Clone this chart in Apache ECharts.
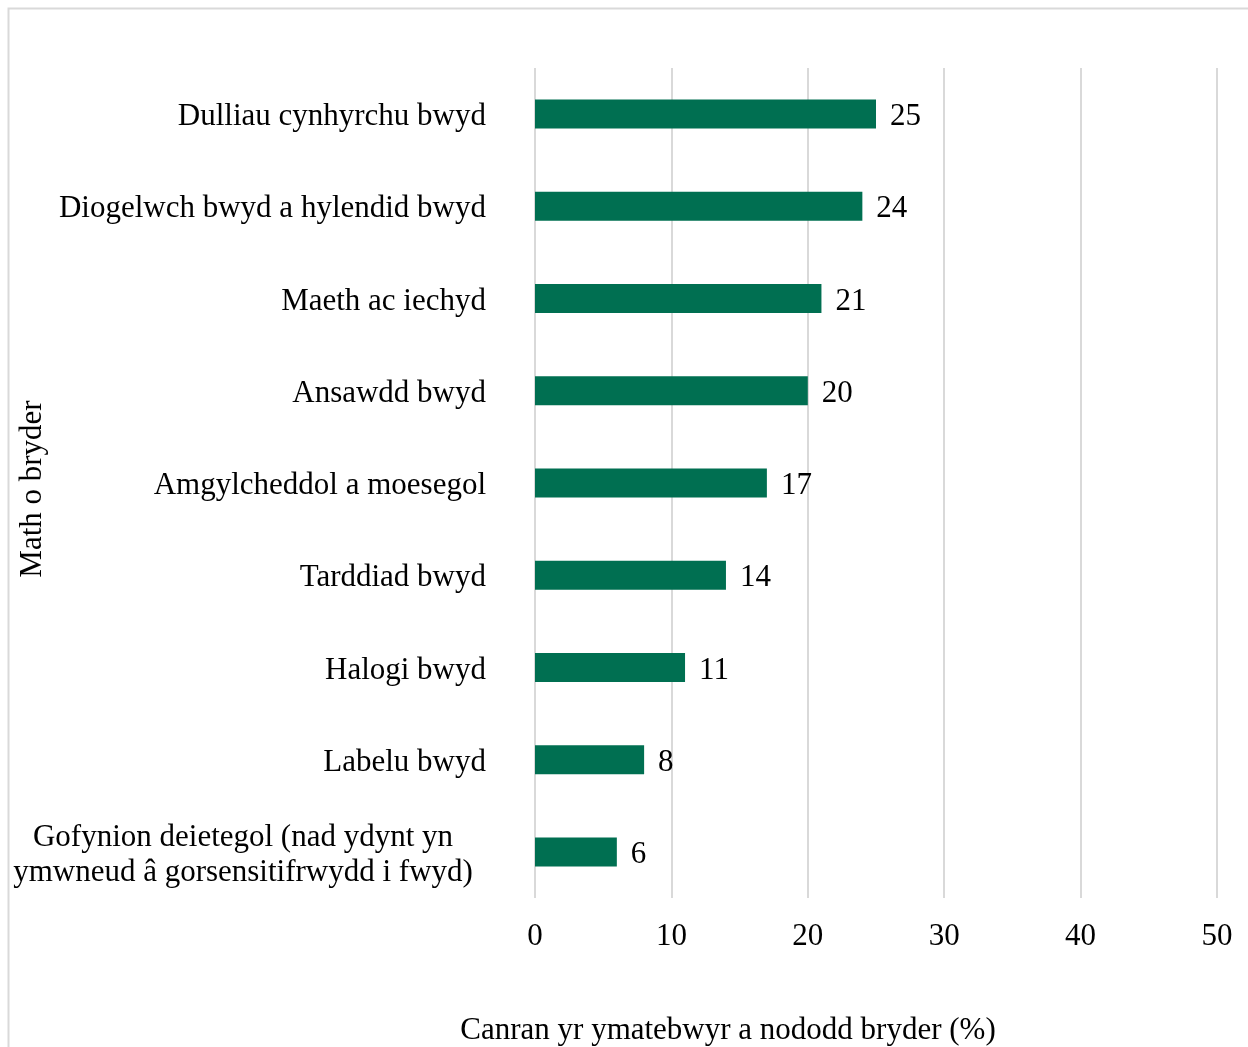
<!DOCTYPE html>
<html><head><meta charset="utf-8">
<script src="https://cdn.jsdelivr.net/npm/echarts@6/dist/echarts.min.js"></script>
<style>html,body{margin:0;padding:0;background:#fff}#c{width:1248px;height:1047px}</style>
</head><body><div id="c"></div>
<script>
const categories = [
  "Dulliau cynhyrchu bwyd",
  "Diogelwch bwyd a hylendid bwyd",
  "Maeth ac iechyd",
  "Ansawdd bwyd",
  "Amgylcheddol a moesegol",
  "Tarddiad bwyd",
  "Halogi bwyd",
  "Labelu bwyd",
  "Gofynion deietegol (nad ydynt yn\nymwneud â gorsensitifrwydd i fwyd)"
];
const values = [25, 24, 21, 20, 17, 14, 11, 8, 6];
const xTicks = [0, 10, 20, 30, 40, 50];
const xTitle = "Canran yr ymatebwyr a nododd bryder (%)";
const yTitle = "Math o bryder";

const FONT = "'Liberation Serif','Times New Roman',serif";
const FS = 31;
const chart = echarts.init(document.getElementById('c'));
chart.setOption({
  animation: false,
  graphic: [
    { type: 'rect', shape: { x: 8.5, y: 8.5, width: 1400, height: 1200 }, style: { fill: 'none', stroke: '#d9d9d9', lineWidth: 2 }, silent: true },
    { type: 'text', x: 728, y: 1031, style: { text: xTitle, font: FS + 'px ' + FONT, fill: '#000', textAlign: 'center', textVerticalAlign: 'middle' } },
    { type: 'text', x: 33, y: 489, rotation: Math.PI / 2, style: { text: yTitle, font: FS + 'px ' + FONT, fill: '#000', textAlign: 'center', textVerticalAlign: 'middle' } }
  ],
  grid: { left: 535, right: 31, top: 68, bottom: 149, containLabel: false, outerBoundsMode: 'none' },
  xAxis: {
    type: 'value', min: xTicks[0], max: xTicks[xTicks.length - 1], interval: 10,
    axisLine: { show: false }, axisTick: { show: false },
    splitLine: { show: true, lineStyle: { color: '#d9d9d9', width: 2 } },
    axisLabel: { margin: 23, color: '#000', fontFamily: FONT, fontSize: FS }
  },
  yAxis: {
    type: 'category', data: categories, inverse: true,
    axisLine: { show: false }, axisTick: { show: false },
    axisLabel: {
      margin: 49, color: '#000', fontFamily: FONT, fontSize: FS, lineHeight: 35,
      padding: [6, 0, 0, 0],
      formatter: function (v) { return v.indexOf('\n') >= 0 ? '{c|' + v + '}' : v; },
      rich: { c: { width: 486, align: 'center', fontFamily: FONT, fontSize: FS, lineHeight: 35, color: '#000' } }
    }
  },
  series: [{
    type: 'bar', data: values, barWidth: 29,
    itemStyle: { color: '#006F51' },
    label: { show: true, position: 'right', distance: 14, offset: [0, 3], color: '#000', fontFamily: FONT, fontSize: FS }
  }]
});
</script></body></html>
